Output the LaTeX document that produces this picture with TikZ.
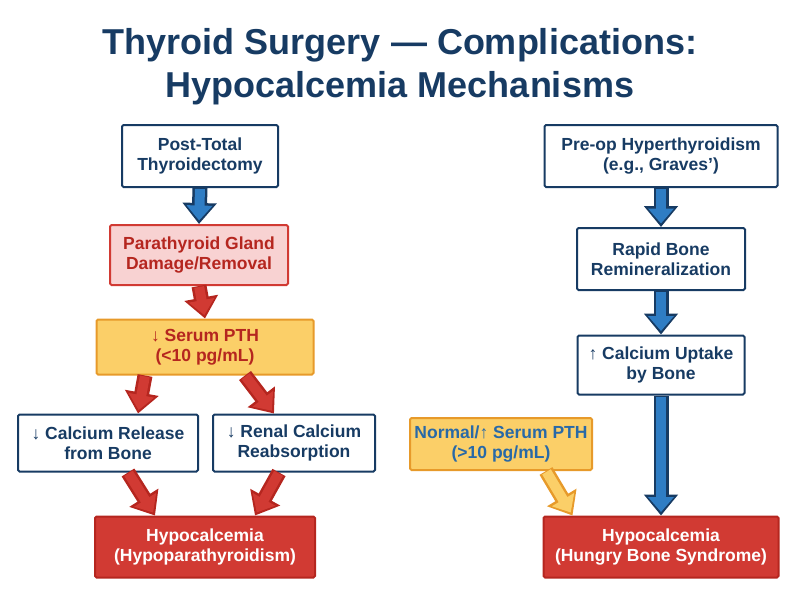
\documentclass[tikz,border=0pt]{standalone}
\usepackage{fontspec}
\setmainfont{Liberation Sans}
\usetikzlibrary{arrows.meta,calc}
\definecolor{navy}{HTML}{173B63}
\definecolor{ablue}{HTML}{2F7DC4}
\definecolor{ared}{HTML}{D13A33}
\definecolor{pinkf}{HTML}{F8D2D2}
\definecolor{yel}{HTML}{FBCF68}
\definecolor{orab}{HTML}{E79A2A}
\definecolor{dred}{HTML}{B5261F}
\begin{document}
\begin{tikzpicture}[x=1pt,y=-1pt,
  box/.style={draw=navy,line width=2pt,fill=white,text=navy,font=\fontsize{17.5}{20}\selectfont\bfseries,align=center,inner sep=2pt,rounded corners=1.5pt},
  pinkbox/.style={box,fill=pinkf,draw=ared,text=dred},
  yelbox/.style={box,fill=yel,draw=orab,text=dred},
  redbox/.style={box,fill=ared,draw=dred,text=white},
  arro/.style={line width=15pt,-{Triangle[length=21pt,width=33pt]}},
  arri/.style={line width=10pt,shorten >=3.5pt,shorten <=1pt,-{Triangle[length=15pt,width=25pt]}},
  ]
\newcommand{\fatarrow}[4]{\draw[arro,draw=#1] (#3) -- (#4); \draw[arri,draw=#2] (#3) -- (#4);}
\useasboundingbox (0,0) rectangle (800,600);
\node[font=\fontsize{36}{43}\selectfont\bfseries,text=navy,align=center] (title) at (400,67) {Thyroid Surgery — Complications:\\Hypocalcemia Mechanisms};
% left
\node[box,minimum width=156,minimum height=62] (ptt) at (200,156) {Post-Total\\Thyroidectomy};
\node[pinkbox,minimum width=178,minimum height=60] (pgd) at (199,255) {Parathyroid Gland\\Damage/Removal};
\node[yelbox,minimum width=217,minimum height=55] (pth) at (205,347) {↓ Serum PTH\\(<10 pg/mL)};
\node[box,minimum width=180,minimum height=57] (crb) at (108,443) {↓ Calcium Release\\from Bone};
\node[box,minimum width=162,minimum height=57] (rcr) at (294,443) {↓ Renal Calcium\\Reabsorption};
\node[redbox,minimum width=220,minimum height=61] (hyp) at (205,547) {Hypocalcemia\\(Hypoparathyroidism)};
% right
\node[box,minimum width=233,minimum height=62] (pre) at (661,156) {Pre-op Hyperthyroidism\\(e.g., Graves’)};
\node[box,minimum width=168,minimum height=62] (rbr) at (661,259) {Rapid Bone\\Remineralization};
\node[box,minimum width=167,minimum height=59] (cub) at (661,365) {↑ Calcium Uptake\\by Bone};
\node[yelbox,text=ablue!70!navy,minimum width=182,minimum height=52] (nsp) at (501,444) {Normal/↑ Serum PTH\\(>10 pg/mL)};
\node[redbox,minimum width=235,minimum height=61] (hbs) at (661,547) {Hypocalcemia\\(Hungry Bone Syndrome)};
% arrows
\coordinate (a1) at ($(pth.south)+(-60,0)$); \coordinate (a2) at ($(crb.north)+(30,0)$);
\coordinate (b1) at ($(pth.south)+(40,0)$);  \coordinate (b2) at ($(rcr.north)+(-20,0)$);
\coordinate (c1) at ($(crb.south)+(20,0)$);  \coordinate (c2) at ($(hyp.north)+(-50,0)$);
\coordinate (d1) at ($(rcr.south)+(-15,0)$); \coordinate (d2) at ($(hyp.north)+(50,0)$);
\coordinate (e1) at ($(nsp.south)+(45,0)$);  \coordinate (e2) at ($(hbs.north west)+(30,0)$);
\fatarrow{navy}{ablue}{ptt.south}{pgd.north}
\fatarrow{dred}{ared}{pgd.south}{pth.north}
\fatarrow{dred}{ared}{a1}{a2}
\fatarrow{dred}{ared}{b1}{b2}
\fatarrow{dred}{ared}{c1}{c2}
\fatarrow{dred}{ared}{d1}{d2}
\fatarrow{navy}{ablue}{pre.south}{rbr.north}
\fatarrow{navy}{ablue}{rbr.south}{cub.north}
\fatarrow{navy}{ablue}{cub.south}{hbs.north}
\fatarrow{orab}{yel}{e1}{e2}
\end{tikzpicture}
\end{document}
